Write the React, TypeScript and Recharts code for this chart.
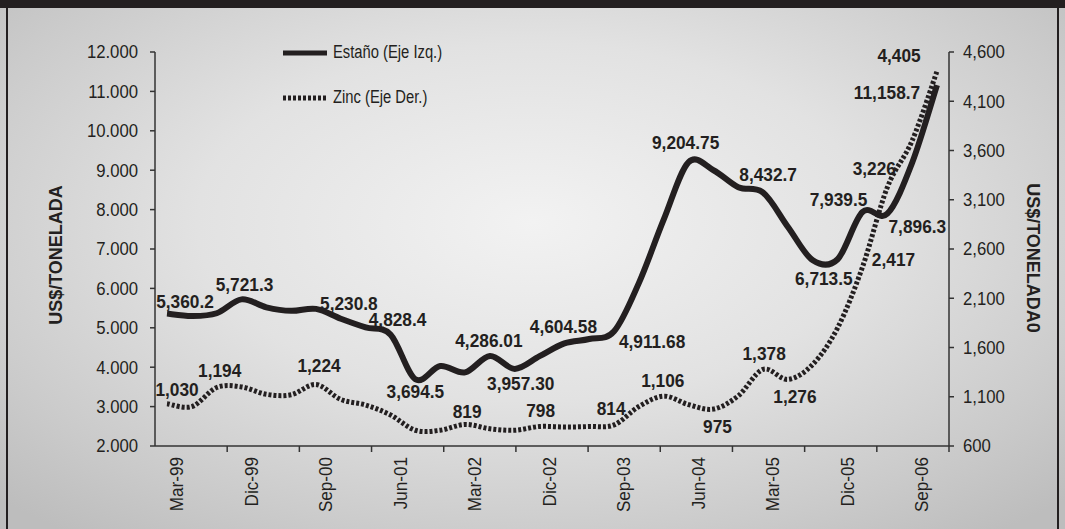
import React from "react";
import { LineChart, Line, XAxis, YAxis, Legend, LabelList } from "recharts";

const quarters = [
  "Mar-99", "Jun-99", "Sep-99", "Dic-99",
  "Mar-00", "Jun-00", "Sep-00", "Dic-00",
  "Mar-01", "Jun-01", "Sep-01", "Dic-01",
  "Mar-02", "Jun-02", "Sep-02", "Dic-02",
  "Mar-03", "Jun-03", "Sep-03", "Dic-03",
  "Mar-04", "Jun-04", "Sep-04", "Dic-04",
  "Mar-05", "Jun-05", "Sep-05", "Dic-05",
  "Mar-06", "Jun-06", "Sep-06", "Dic-06",
];

// Estaño, US$/t (left axis)
const tin = [
  5360.2, 5300, 5370, 5721.3,
  5520, 5430, 5480, 5230.8,
  5010, 4828.4, 3694.5, 4030,
  3870, 4286.01, 3957.3, 4280,
  4604.58, 4716, 4911.68, 6140,
  7750, 9204.75, 9000, 8570,
  8432.7, 7560, 6713.5, 6740,
  7939.5, 7896.3, 9190, 11158.7,
];

// Zinc, US$/t (right axis)
const zinc = [
  1030, 1000, 1194, 1200,
  1125, 1120, 1224, 1072,
  1016, 915, 760, 760,
  819, 775, 760, 798,
  793, 798, 814, 1001,
  1106, 1020, 975, 1110,
  1378, 1276, 1430, 1800,
  2417, 3226, 3700, 4405,
];

const leftTicks = [2000, 3000, 4000, 5000, 6000, 7000, 8000, 9000, 10000, 11000, 12000];
const rightTicks = [600, 1100, 1600, 2100, 2600, 3100, 3600, 4100, 4600];

// printed values: point index, text, and where the text sits from the point
const tinTags = [
  { i: 0, text: "5,360.2", dx: 18, dy: -12 },
  { i: 3, text: "5,721.3", dx: 3, dy: -15 },
  { i: 7, text: "5,230.8", dx: 8, dy: -15 },
  { i: 9, text: "4,828.4", dx: 7, dy: -15 },
  { i: 10, text: "3,694.5", dx: 0, dy: 12 },
  { i: 13, text: "4,286.01", dx: -1, dy: -15 },
  { i: 14, text: "3,957.30", dx: 6, dy: 15 },
  { i: 16, text: "4,604.58", dx: -1, dy: -17 },
  { i: 18, text: "4,911.68", dx: 38, dy: 10 },
  { i: 21, text: "9,204.75", dx: -3, dy: -19 },
  { i: 24, text: "8,432.7", dx: 5, dy: -18 },
  { i: 26, text: "6,713.5", dx: 11, dy: 18 },
  { i: 28, text: "7,939.5", dx: -24, dy: -12 },
  { i: 29, text: "7,896.3", dx: 30, dy: 13 },
  { i: 31, text: "11,158.7", dx: -50, dy: 8 },
];

const zincTags = [
  { i: 0, text: "1,030", dx: 10, dy: -14 },
  { i: 2, text: "1,194", dx: 3, dy: -17 },
  { i: 6, text: "1,224", dx: 3, dy: -19 },
  { i: 12, text: "819", dx: 2, dy: -13 },
  { i: 15, text: "798", dx: 1, dy: -16 },
  { i: 18, text: "814", dx: -3, dy: -16 },
  { i: 20, text: "1,106", dx: -1, dy: -15 },
  { i: 22, text: "975", dx: 4, dy: 18 },
  { i: 24, text: "1,378", dx: 1, dy: -16 },
  { i: 25, text: "1,276", dx: 7, dy: 17 },
  { i: 28, text: "2,417", dx: 31, dy: -7 },
  { i: 29, text: "3,226", dx: -13, dy: -19 },
  { i: 31, text: "4,405", dx: -38, dy: -15 },
];

const rows = quarters.map((q, i) => ({ q, tin: tin[i], zinc: zinc[i] }));

const W = 1065;
const H = 529;
const PLOT_LEFT = 155;
const PLOT_RIGHT = 949;
const PLOT_TOP = 52;
const PLOT_BOTTOM = 446;
const INK = "#231f20";
const AXIS = "#333";
const FONT = "'Liberation Sans', Arial, Helvetica, sans-serif";

// Excel-like smoothed line (uniform Catmull-Rom through every point)
function smoothCurve(context: any) {
  let pts: number[][] = [];
  return {
    areaStart() {},
    areaEnd() {},
    lineStart() {
      pts = [];
    },
    point(x: number, y: number) {
      pts.push([+x, +y]);
    },
    lineEnd() {
      const n = pts.length;
      if (!n) return;
      context.moveTo(pts[0][0], pts[0][1]);
      for (let i = 0; i < n - 1; i++) {
        const p0 = pts[Math.max(i - 1, 0)];
        const p1 = pts[i];
        const p2 = pts[i + 1];
        const p3 = pts[Math.min(i + 2, n - 1)];
        context.bezierCurveTo(
          p1[0] + (p2[0] - p0[0]) / 6,
          p1[1] + (p2[1] - p0[1]) / 6,
          p2[0] - (p3[0] - p1[0]) / 6,
          p2[1] - (p3[1] - p1[1]) / 6,
          p2[0],
          p2[1]
        );
      }
    },
  };
}

// the source uses a tall, slightly condensed face: squeeze Liberation Sans horizontally
function TallText(props: {
  x: number;
  y: number;
  size: number;
  squeeze: number;
  anchor?: string;
  angle?: number;
  bold?: boolean;
  children: React.ReactNode;
}) {
  const { x, y, size, squeeze, anchor = "middle", angle = 0, bold, children } = props;
  return (
    <text
      transform={`translate(${x} ${y}) rotate(${angle}) scale(${squeeze} 1)`}
      x={0}
      y={0}
      textAnchor={anchor as any}
      dominantBaseline="central"
      fontFamily={FONT}
      fontSize={size}
      fontWeight={bold ? "bold" : "normal"}
      fill={INK}
    >
      {children}
    </text>
  );
}

function tagRenderer(tags: { i: number; text: string; dx: number; dy: number }[]) {
  return (p: any) => {
    const t = tags.find((tag) => tag.i === p.index);
    if (!t) return null;
    const x = p.viewBox?.x ?? p.x;
    const y = p.viewBox?.y ?? p.y;
    return (
      <TallText x={x + t.dx} y={y + t.dy} size={19} squeeze={0.91} bold>
        {t.text}
      </TallText>
    );
  };
}

function QuarterTick(props: any) {
  const { x, index, payload } = props;
  const step = (PLOT_RIGHT - PLOT_LEFT) / 11;
  const parts: React.ReactNode[] = [];
  if (index % 3 === 0) {
    const k = index / 3;
    if (k > 0) {
      const mx = PLOT_LEFT + k * step;
      parts.push(
        <line key="m" x1={mx} x2={mx} y1={PLOT_BOTTOM} y2={PLOT_BOTTOM + 6} stroke={AXIS} strokeWidth={1.5} />
      );
    }
    parts.push(
      <TallText key="t" x={x + 10} y={PLOT_BOTTOM + 11} size={19} squeeze={0.9} anchor="end" angle={-90}>
        {payload.value}
      </TallText>
    );
  }
  if (index === quarters.length - 1) {
    parts.push(
      <line key="e" x1={PLOT_RIGHT} x2={PLOT_RIGHT} y1={PLOT_BOTTOM} y2={PLOT_BOTTOM + 6} stroke={AXIS} strokeWidth={1.5} />
    );
  }
  return <g>{parts}</g>;
}

function ValueTick(props: any) {
  const { x, y, payload, textAnchor, tickFormatter } = props;
  return (
    <TallText x={x} y={y} size={19} squeeze={0.88} anchor={textAnchor}>
      {tickFormatter ? tickFormatter(payload.value) : payload.value}
    </TallText>
  );
}

function LegendBox(props: any) {
  const items = props.payload || [];
  return (
    <div style={{ fontFamily: FONT, fontSize: 18, color: INK }}>
      {items.map((it: any) => (
        <div key={it.value} style={{ display: "flex", alignItems: "center", height: 45 }}>
          <svg width={50} height={10} style={{ display: "block", flex: "none" }}>
            <line
              x1={0}
              x2={44}
              y1={5}
              y2={5}
              stroke={INK}
              strokeWidth={5}
              strokeDasharray={it.payload?.strokeDasharray}
            />
          </svg>
          <span
            style={{
              display: "inline-block",
              whiteSpace: "nowrap",
              transform: "scaleX(0.82)",
              transformOrigin: "left center",
            }}
          >
            {it.value}
          </span>
        </div>
      ))}
    </div>
  );
}

const leftTitle = () => (
  <text
    x={56}
    y={255}
    transform="rotate(-90 56 255)"
    textAnchor="middle"
    dominantBaseline="central"
    fontFamily={FONT}
    fontSize={18}
    fontWeight="bold"
    fill={INK}
  >
    US$/TONELADA
  </text>
);

const rightTitle = () => (
  <text
    x={1033}
    y={258}
    transform="rotate(90 1033 258)"
    textAnchor="middle"
    dominantBaseline="central"
    fontFamily={FONT}
    fontSize={18}
    fontWeight="bold"
    fill={INK}
  >
    US$/TONELADA0
  </text>
);

export default function App() {
  return (
    <div
      style={{
        position: "absolute",
        left: 0,
        top: 0,
        width: W,
        height: H,
        overflow: "hidden",
        background:
          "radial-gradient(ellipse 70% 75% at 50% 42%, #f2f2f2 0%, #e2e2e2 45%, #cbcbcb 80%, #bdbdbd 100%)",
        fontFamily: FONT,
      }}
    >
      <div style={{ position: "absolute", left: 0, top: 0, width: W, height: 8, background: INK }} />
      <div style={{ position: "absolute", left: 6, top: 0, width: 2, height: H, background: INK }} />
      <div style={{ position: "absolute", left: 1057, top: 0, width: 2, height: H, background: INK }} />
      <div style={{ position: "absolute", left: 0, top: 0 }}>
        <LineChart
          width={W}
          height={H}
          data={rows}
          margin={{ top: PLOT_TOP, right: 0, bottom: 0, left: 0 }}
        >
          <XAxis
            dataKey="q"
            height={H - PLOT_BOTTOM}
            interval={0}
            padding={{ left: 12, right: 12 }}
            tickLine={false}
            tick={<QuarterTick />}
            axisLine={{ stroke: AXIS, strokeWidth: 1.5 }}
          />
          <YAxis
            yAxisId="left"
            orientation="left"
            width={PLOT_LEFT}
            domain={[2000, 12000]}
            ticks={leftTicks}
            tickFormatter={(v: number) => `${v / 1000}.000`}
            tickSize={5}
            tickMargin={12}
            axisLine={{ stroke: AXIS, strokeWidth: 1.5 }}
            tickLine={{ stroke: AXIS, strokeWidth: 1.5 }}
            tick={<ValueTick />}
            label={leftTitle}
          />
          <YAxis
            yAxisId="right"
            orientation="right"
            width={W - PLOT_RIGHT}
            domain={[600, 4600]}
            ticks={rightTicks}
            tickFormatter={(v: number) => v.toLocaleString("en-US")}
            tickSize={5}
            tickMargin={9}
            axisLine={{ stroke: AXIS, strokeWidth: 1.5 }}
            tickLine={{ stroke: AXIS, strokeWidth: 1.5 }}
            tick={<ValueTick />}
            label={rightTitle}
          />
          <Legend
            layout="vertical"
            align="center"
            verticalAlign="middle"
            wrapperStyle={{ left: 283, top: 30, width: 260 }}
            content={<LegendBox />}
          />
          <Line
            yAxisId="left"
            dataKey="tin"
            name="Estaño (Eje Izq.)"
            type={smoothCurve as any}
            stroke={INK}
            strokeWidth={6}
            dot={false}
            activeDot={false}
            isAnimationActive={false}
          >
            <LabelList dataKey="tin" content={tagRenderer(tinTags)} />
          </Line>
          <Line
            yAxisId="right"
            dataKey="zinc"
            name="Zinc (Eje Der.)"
            type={smoothCurve as any}
            stroke={INK}
            strokeWidth={5}
            strokeDasharray="3 2"
            dot={false}
            activeDot={false}
            isAnimationActive={false}
          >
            <LabelList dataKey="zinc" content={tagRenderer(zincTags)} />
          </Line>
        </LineChart>
      </div>
    </div>
  );
}
